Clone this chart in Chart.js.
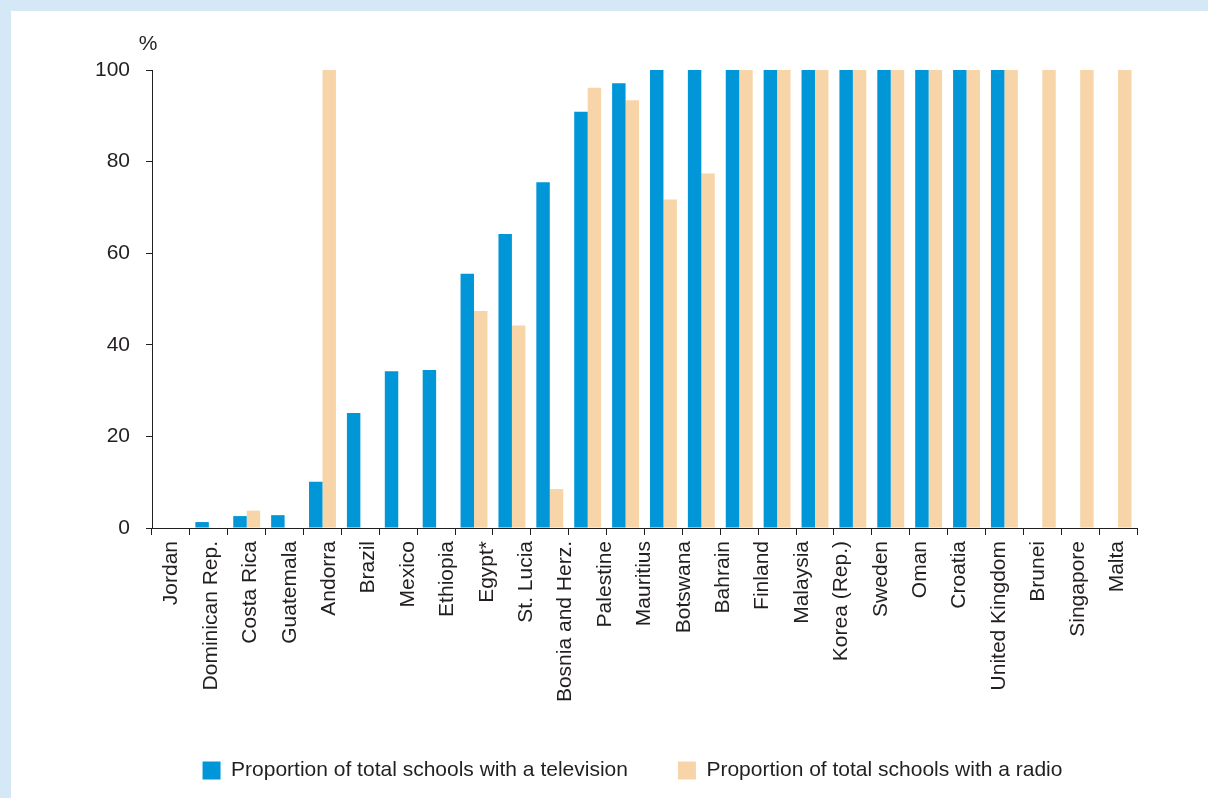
<!DOCTYPE html>
<html>
<head>
<meta charset="utf-8">
<title>Schools with a television or a radio</title>
<script src="https://cdn.jsdelivr.net/npm/chart.js@4.4.1/dist/chart.umd.min.js"></script>
<style>
  body { margin:0; background:#d4e8f6; }
  #frame { position:absolute; left:11px; top:11px; width:1197px; height:787px; background:#fff; }
</style>
</head>
<body>
<div id="frame"><canvas id="myChart" width="1197" height="787"></canvas></div>
<script>
// tick labels along the bottom (25 names, spread evenly)
var countries = ['Jordan','Dominican Rep.','Costa Rica','Guatemala','Andorra','Brazil','Mexico',
  'Ethiopia','Egypt*','St. Lucia','Bosnia and Herz.','Palestine','Mauritius','Botswana','Bahrain',
  'Finland','Malaysia','Korea (Rep.)','Sweden','Oman','Croatia','United Kingdom','Brunei','Singapore','Malta'];

// the bars sit in 26 slots in the original, one group has no name of its own
var barSlots = ['Jordan','Dominican Rep.','Costa Rica','Guatemala','Andorra','Brazil','Mexico',
  'Ethiopia','Egypt*','St. Lucia','Bosnia and Herz.','Palestine','Mauritius','Botswana','Bahrain',
  'Finland','Malaysia','Korea (Rep.)','Sweden','Oman','Croatia','United Kingdom','',
  'Brunei','Singapore','Malta'];

var tvValues    = [0, 1.3, 2.6, 2.8, 10.1, 25.1, 34.2, 34.5, 55.5, 64.2, 75.5, 90.9, 97.1,
  100, 100, 100, 100, 100, 100, 100, 100, 100, 100, 0, 0, 0];
var radioValues = [0, 0, 3.8, 0, 100, 0, 0, 0, 47.4, 44.2, 8.5, 96.1, 93.4,
  71.7, 77.4, 100, 100, 100, 100, 100, 100, 100, 100, 100, 100, 100];

var yTicks = [0, 20, 40, 60, 80, 100];

var seriesNames = ['Proportion of total schools with a television', 'Proportion of total schools with a radio'];

var textColor = '#231f20';
var fontFamily = '"Liberation Sans", Arial, Helvetica, sans-serif';

var percentLabel = {
  id: 'percentLabel',
  afterDraw: function (chart) {
    var ctx = chart.ctx, a = chart.chartArea;
    ctx.save();
    ctx.font = '21px ' + fontFamily;
    ctx.fillStyle = textColor;
    ctx.textAlign = 'center';
    ctx.textBaseline = 'middle';
    ctx.fillText('%', a.left - 4, a.top - 26);
    ctx.restore();
  }
};

// legend in the original is centred a bit to the right of the canvas middle
var legendShift = {
  id: 'legendShift',
  afterLayout: function (chart) {
    chart.legend.left += 18;
    chart.legend.right += 18;
  }
};

window.onload = function () {
  init();
}

function init() {
  const ctx = document.getElementById('myChart').getContext('2d');

  new Chart(ctx, {
    type: 'bar',
    data: {
      labels: barSlots,
      datasets: [{
        label: seriesNames[0],
        data: tvValues,
        backgroundColor: '#0096d8',
        borderWidth: 0,
        categoryPercentage: 0.71,
        barPercentage: 1
      }, {
        label: seriesNames[1],
        data: radioValues,
        backgroundColor: '#f7d5a8',
        borderWidth: 0,
        categoryPercentage: 0.71,
        barPercentage: 1
      }]
    },
    options: {
      responsive: false,
      animation: false,
      layout: { padding: { left: 81, right: 71, top: 59, bottom: 18 } },
      scales: {
        x: {
          position: 'bottom',
          weight: 0,
          offset: true,
          grid: { offset: true, drawOnChartArea: false, drawTicks: true, tickLength: 7, color: textColor },
          border: { color: textColor, width: 1 },
          ticks: { display: false },
          afterFit: function (s) { s.height = 0; }
        },
        x2: {
          type: 'category',
          labels: countries,
          position: 'bottom',
          weight: 1,
          offset: true,
          grid: { display: false, drawTicks: false },
          border: { display: false },
          ticks: {
            autoSkip: false, maxRotation: 90, minRotation: 90, padding: 13,
            color: textColor, font: { family: fontFamily, size: 21 }
          },
          afterFit: function (s) { s.height = 182; }
        },
        y: {
          min: 0,
          max: 100,
          grid: { drawOnChartArea: false, drawTicks: true, tickLength: 6, color: textColor },
          border: { color: textColor, width: 1 },
          ticks: { padding: 16, color: textColor, font: { family: fontFamily, size: 21 } },
          afterBuildTicks: function (s) { s.ticks = yTicks.map(v => ({ value: v })); },
          afterFit: function (s) { s.width = 60; }
        }
      },
      plugins: {
        tooltip: { enabled: false },
        legend: {
          position: 'bottom',
          maxHeight: 70,
          labels: {
            boxWidth: 18, boxHeight: 18, padding: 50, color: textColor,
            font: { family: fontFamily, size: 21 }
          }
        }
      }
    },
    plugins: [percentLabel, legendShift]
  });
}
</script>
</body>
</html>
